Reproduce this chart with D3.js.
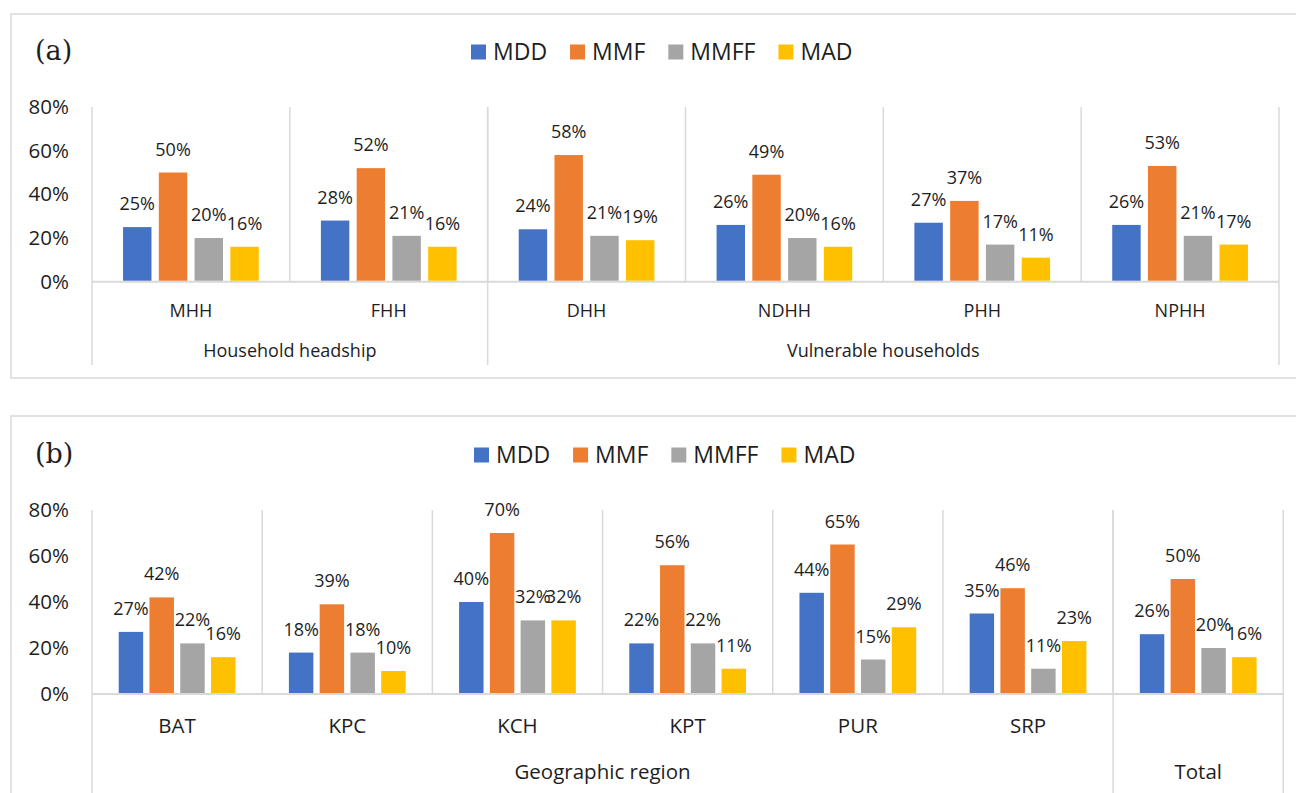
<!DOCTYPE html>
<html>
<head>
<meta charset="utf-8">
<script src="https://cdn.jsdelivr.net/npm/d3@7"></script>
<style>
  html, body { margin: 0; padding: 0; background: #fff; }
  svg { display: block; }
  text { font-family: "Open Sans", sans-serif; fill: #1e1e1e; }
</style>
</head>
<body>
<svg id="chart" width="1296" height="793"></svg>
<script>
// ---------- data ----------
const seriesNames = ["MDD", "MMF", "MMFF", "MAD"];
const seriesColors = ["#4472C4", "#ED7D31", "#A5A5A5", "#FFC000"];
const yTicks = [0, 20, 40, 60, 80];

// Panel (a)
const catsA = ["MHH", "FHH", "DHH", "NDHH", "PHH", "NPHH"];
const catLabelsA = ["MHH", "FHH", "DHH", "NDHH", "PHH", "NPHH"];
const groupNamesA = ["Household headship", "Vulnerable households"];
const groupSizesA = [2, 4];
const mddA  = [25, 28, 24, 26, 27, 26];
const mmfA  = [50, 52, 58, 49, 37, 53];
const mmffA = [20, 21, 21, 20, 17, 21];
const madA  = [16, 16, 19, 16, 11, 17];

// Panel (b)
const catsB = ["BAT", "KPC", "KCH", "KPT", "PUR", "SRP", "Total"];
const catLabelsB = ["BAT", "KPC", "KCH", "KPT", "PUR", "SRP", ""];
const groupNamesB = ["Geographic region", "Total"];
const groupSizesB = [6, 1];
const mddB  = [27, 18, 40, 22, 44, 35, 26];
const mmfB  = [42, 39, 70, 56, 65, 46, 50];
const mmffB = [22, 18, 32, 22, 15, 11, 20];
const madB  = [16, 10, 32, 11, 29, 23, 16];

// ---------- drawing ----------
const svg = d3.select("#chart");
svg.append("rect").attr("width", 1296).attr("height", 793).attr("fill", "#fff");
const lineColor = "#d9d9d9";

function drawPanel(cfg) {
  const g = svg.append("g");
  g.append("rect")
    .attr("x", cfg.box[0]).attr("y", cfg.box[1])
    .attr("width", cfg.box[2]).attr("height", cfg.box[3])
    .attr("fill", "none").attr("stroke", lineColor).attr("stroke-width", 1.5);

  g.append("text").attr("x", cfg.tagX).attr("y", cfg.tagY)
    .style("font-family", "'DejaVu Serif', serif").style("font-size", "27px")
    .text(cfg.tag);

  const series = [cfg.mdd, cfg.mmf, cfg.mmff, cfg.mad];
  const rows = cfg.cats.map((c, i) => ({cat: c, vals: series.map(s => s[i])}));

  const x0 = d3.scaleBand().domain(cfg.cats).range([cfg.left, cfg.right]).padding(0);
  const W = x0.bandwidth();
  const G = W * 0.686;
  const x1 = d3.scaleBand().domain(seriesNames).range([(W - G) / 2, (W + G) / 2])
    .paddingInner(0.205).paddingOuter(0);
  const y = d3.scaleLinear().domain([0, 80]).range([cfg.base, cfg.top]);

  const ax = g.append("g").attr("transform", `translate(${cfg.left},0)`)
    .call(d3.axisLeft(y).tickValues(yTicks).tickSize(0).tickPadding(23).tickFormat(d => d + "%"));
  ax.select(".domain").remove();
  ax.selectAll("text").style("font-family", "'Open Sans', sans-serif").style("font-size", "20.5px").attr("fill", "#1e1e1e");

  cfg.cats.forEach((c, i) => {
    if (i === 0) return;
    g.append("line").attr("x1", x0(c)).attr("x2", x0(c))
      .attr("y1", cfg.top).attr("y2", cfg.base)
      .attr("stroke", lineColor).attr("stroke-width", 1.5);
  });
  let idx = 0;
  const bounds = [cfg.left];
  const groupCenters = [];
  cfg.groupSizes.forEach((n) => {
    const start = x0(cfg.cats[idx]);
    idx += n;
    const end = idx < cfg.cats.length ? x0(cfg.cats[idx]) : cfg.right;
    bounds.push(end);
    groupCenters.push((start + end) / 2);
  });
  bounds.forEach(bx => {
    g.append("line").attr("x1", bx).attr("x2", bx)
      .attr("y1", cfg.top).attr("y2", cfg.bottom)
      .attr("stroke", lineColor).attr("stroke-width", 1.5);
  });
  g.append("line").attr("x1", cfg.left).attr("x2", cfg.right)
    .attr("y1", cfg.base).attr("y2", cfg.base)
    .attr("stroke", lineColor).attr("stroke-width", 2);

  const cg = g.selectAll(".cat").data(rows).enter().append("g")
    .attr("transform", d => `translate(${x0(d.cat)},0)`);
  cg.selectAll("rect").data(d => d.vals.map((v, k) => ({k, v}))).enter().append("rect")
    .attr("x", d => x1(seriesNames[d.k]))
    .attr("width", x1.bandwidth())
    .attr("y", d => y(d.v))
    .attr("height", d => y(0) - y(d.v) - 1)
    .attr("fill", d => seriesColors[d.k]);
  cg.selectAll("text").data(d => d.vals.map((v, k) => ({k, v}))).enter().append("text")
    .attr("x", d => x1(seriesNames[d.k]) + x1.bandwidth() / 2)
    .attr("y", d => y(d.v) - 17)
    .attr("text-anchor", "middle")
    .style("font-size", "18px")
    .text(d => d.v + "%");

  g.selectAll(".catlab").data(cfg.cats).enter().append("text")
    .attr("x", d => x0(d) + W / 2).attr("y", cfg.catY)
    .attr("text-anchor", "middle").style("font-size", cfg.labSize + "px")
    .text((d, i) => cfg.catLabels[i]);
  cfg.groupNames.forEach((nm, gi) => {
    g.append("text").attr("x", groupCenters[gi]).attr("y", cfg.groupY)
      .attr("text-anchor", "middle").style("font-size", cfg.labSize + "px").text(nm);
  });

  let lx = cfg.legX;
  seriesNames.forEach((s, k) => {
    g.append("rect").attr("x", lx).attr("y", cfg.legY - 7.5).attr("width", 15).attr("height", 15)
      .attr("fill", seriesColors[k]);
    const t = g.append("text").attr("x", lx + 22).attr("y", cfg.legY + 8)
      .style("font-size", "23px").text(s);
    lx = lx + 22 + t.node().getComputedTextLength() + 23;
  });
}

drawPanel({
  tag: "(a)", tagX: 35, tagY: 60,
  box: [11, 14, 1300, 364],
  cats: catsA, catLabels: catLabelsA, groupNames: groupNamesA, groupSizes: groupSizesA,
  mdd: mddA, mmf: mmfA, mmff: mmffA, mad: madA,
  left: 92, right: 1279, top: 107, base: 281.7, bottom: 365,
  catY: 316.5, groupY: 356.5, labSize: 18,
  legX: 471, legY: 52
});

drawPanel({
  tag: "(b)", tagX: 35, tagY: 463,
  box: [11, 416, 1300, 400],
  cats: catsB, catLabels: catLabelsB, groupNames: groupNamesB, groupSizes: groupSizesB,
  mdd: mddB, mmf: mmfB, mmff: mmffB, mad: madB,
  left: 92, right: 1283.3, top: 510, base: 694, bottom: 800,
  catY: 732.5, groupY: 779, labSize: 20.5,
  legX: 474, legY: 455
});
</script>
</body>
</html>
